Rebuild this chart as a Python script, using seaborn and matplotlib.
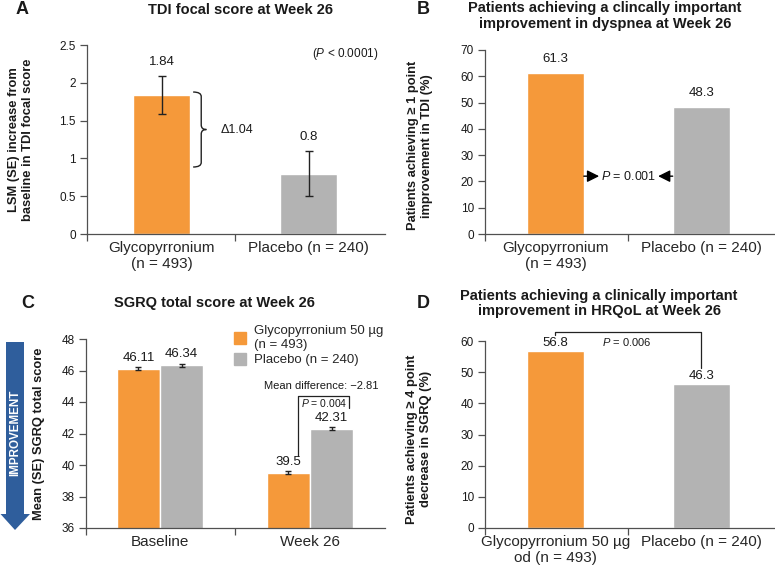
import matplotlib
matplotlib.use("Agg")
import matplotlib.pyplot as plt
import seaborn as sns
import pandas as pd
import numpy as np
from matplotlib.patches import Polygon, PathPatch
from matplotlib.path import Path
from matplotlib.lines import Line2D

# ---------------- data ----------------
tdi_cats = ["Glycopyrronium\n(n = 493)", "Placebo (n = 240)"]
tdi_vals = [1.84, 0.8]
tdi_err = [0.25, 0.30]

resp_cats = ["Glycopyrronium\n(n = 493)", "Placebo (n = 240)"]
resp_vals = [61.3, 48.3]

sgrq_groups = ["Baseline", "Week 26"]
sgrq_treat = ["Glycopyrronium 50 µg\n(n = 493)", "Placebo (n = 240)"]
sgrq_glyco = [46.11, 39.5]
sgrq_plac = [46.34, 42.31]
sgrq_glyco_err = [0.10, 0.10]
sgrq_plac_err = [0.10, 0.10]

hrq_cats = ["Glycopyrronium 50 µg\nod (n = 493)", "Placebo (n = 240)"]
hrq_vals = [56.8, 46.3]

ORANGE = "#F5993A"
GRAY = "#B3B3B3"
BLUE = "#2F5E9C"
TXT = "#1a1a1a"
SP = "#505050"

sns.set_theme(style="white")
plt.rcParams["font.family"] = ["Liberation Sans", "DejaVu Sans"]
plt.rcParams["mathtext.fontset"] = "custom"
plt.rcParams["mathtext.rm"] = "Liberation Sans"
plt.rcParams["mathtext.it"] = "Liberation Sans:italic"
plt.rcParams["mathtext.bf"] = "Liberation Sans:bold"

W, H = 775, 566
fig = plt.figure(figsize=(W / 100, H / 100), dpi=100)

YLAB_FS = 9.3
VAL_FS = 9.5


def add_ax(left, top, right, bottom):
    return fig.add_axes([left / W, (H - bottom) / H, (right - left) / W, (bottom - top) / H])


def style(ax, xlim):
    ax.set_xlim(*xlim)
    for s in ["top", "right"]:
        ax.spines[s].set_visible(False)
    for s in ["left", "bottom"]:
        ax.spines[s].set_color(SP)
        ax.spines[s].set_linewidth(0.9)
    labels = [t.get_text() for t in ax.get_xticklabels()]
    ax.set_xticks([0, 1], minor=True)
    ax.set_xticklabels(labels, minor=True, fontsize=9, color=TXT)
    ax.set_xticks([xlim[0], 0.5])
    ax.set_xticklabels(["", ""])
    ax.tick_params(axis="x", which="major", length=5, color=SP, width=0.9, direction="out", bottom=True)
    ax.tick_params(axis="x", which="minor", length=0, pad=5, bottom=True)
    ax.tick_params(axis="y", length=5, color=SP, width=0.9, direction="out", left=True,
                   labelsize=8.5, labelcolor=TXT, pad=3)
    ax.set_xlabel("")


# ---------------- Panel A ----------------
axA = add_ax(87, 45, 385, 234)
dfA = pd.DataFrame({"cat": tdi_cats, "val": tdi_vals})
sns.barplot(data=dfA, x="cat", y="val", hue="cat", palette=[ORANGE, GRAY], width=0.39,
            errorbar=None, legend=False, ax=axA, saturation=1)
xs = [p.get_x() + p.get_width() / 2 for p in axA.patches]
axA.errorbar(xs, tdi_vals, yerr=tdi_err, fmt="none", ecolor="#222222", elinewidth=1, capsize=3, capthick=1)
for x, v, e in zip(xs, tdi_vals, tdi_err):
    axA.annotate(f"{v:g}", (x, v + e), xytext=(0, 10), textcoords="offset points",
                 ha="center", va="center", fontsize=VAL_FS, color=TXT)
axA.set_ylim(0, 2.5)
axA.set_yticks([0, 0.5, 1, 1.5, 2, 2.5])
axA.set_yticklabels(["0", "0.5", "1", "1.5", "2", "2.5"])
style(axA, (-0.507, 1.52))
axA.set_ylabel("LSM (SE) increase from\nbaseline in TDI focal score", fontsize=YLAB_FS, fontweight="bold", color=TXT)
axA.yaxis.set_label_coords(-0.178, 0.5)
# brace
bx0, bx1, bx2 = 0.215, 0.27, 0.305
yt, yb = 1.878, 0.886
ym = (yt + yb) / 2
verts = [(bx0, yt), (bx1, yt), (bx1, yt - 0.06),
         (bx1, ym + 0.06), (bx1, ym), (bx2, ym),
         (bx1, ym), (bx1, ym - 0.06),
         (bx1, yb + 0.06), (bx1, yb), (bx0, yb)]
codes = [Path.MOVETO, Path.CURVE3, Path.CURVE3,
         Path.LINETO, Path.CURVE3, Path.CURVE3,
         Path.CURVE3, Path.CURVE3,
         Path.LINETO, Path.CURVE3, Path.CURVE3]
axA.add_patch(PathPatch(Path(verts, codes), fill=False, lw=1, edgecolor="#222222"))
axA.text(0.40, ym - 0.01, "Δ1.04", fontsize=9, va="center", ha="left", color=TXT)
axA.text(1.473, 2.38, "($\\mathit{P}$ < 0.0001)", fontsize=8.5, ha="right", va="center", color=TXT)

# ---------------- Panel B ----------------
axB = add_ax(485, 50, 774, 234)
dfB = pd.DataFrame({"cat": resp_cats, "val": resp_vals})
sns.barplot(data=dfB, x="cat", y="val", hue="cat", palette=[ORANGE, GRAY], width=0.39,
            errorbar=None, legend=False, ax=axB, saturation=1)
xsB = [p.get_x() + p.get_width() / 2 for p in axB.patches]
for x, v in zip(xsB, resp_vals):
    axB.annotate(f"{v:g}", (x, v), xytext=(0, 10), textcoords="offset points",
                 ha="center", va="center", fontsize=VAL_FS, color=TXT)
axB.set_ylim(0, 70)
axB.set_yticks(np.arange(0, 71, 10))
style(axB, (-0.483, 1.5))
axB.set_ylabel("Patients achieving ≥ 1 point\nimprovement in TDI (%)", fontsize=YLAB_FS, fontweight="bold", color=TXT)
axB.yaxis.set_label_coords(-0.18, 0.48)
yarr = 22
pB = axB.patches
r0 = pB[0].get_x() + pB[0].get_width()
l1 = pB[1].get_x()
akw = dict(arrowstyle="-|>,head_length=0.6,head_width=0.3", color="black", lw=1, shrinkA=0, shrinkB=0)
axB.annotate("", xy=(r0 + 0.105, yarr), xytext=(r0, yarr), arrowprops=akw)
axB.annotate("", xy=(l1 - 0.10, yarr), xytext=(l1, yarr), arrowprops=akw)
axB.text(r0 + 0.115, yarr, "$\\mathit{P}$ = 0.001", fontsize=9, va="center", ha="left", color=TXT)

# ---------------- Panel C ----------------
axC = add_ax(86, 339, 385, 528)
dfC = pd.DataFrame({
    "group": sgrq_groups * 2,
    "treat": [sgrq_treat[0]] * 2 + [sgrq_treat[1]] * 2,
    "val": sgrq_glyco + sgrq_plac,
})
sns.barplot(data=dfC, x="group", y="val", hue="treat", palette=[ORANGE, GRAY], width=0.575,
            errorbar=None, ax=axC, saturation=1)
barsC = axC.patches[:4]
valsC = sgrq_glyco + sgrq_plac
errsC = sgrq_glyco_err + sgrq_plac_err
xsC = [p.get_x() + p.get_width() / 2 for p in barsC]
axC.errorbar(xsC, valsC, yerr=errsC, fmt="none", ecolor="#222222", elinewidth=1, capsize=2.5, capthick=1)
for x, v in zip(xsC, valsC):
    axC.annotate(f"{v:g}", (x, v), xytext=(0, 8), textcoords="offset points",
                 ha="center", va="center", fontsize=VAL_FS, color=TXT)
axC.set_ylim(36, 48)
axC.set_yticks(np.arange(36, 49, 2))
if axC.legend_ is not None:
    axC.legend_.remove()
hh = [Line2D([], [], marker="s", ls="", color=ORANGE, markersize=8),
      Line2D([], [], marker="s", ls="", color=GRAY, markersize=8)]
fig.legend(hh, sgrq_treat, loc="upper left", bbox_to_anchor=(233 / W, (H - 325) / H),
           frameon=False, fontsize=9.5, handlelength=1.0, handletextpad=0.6,
           labelspacing=0.25, borderpad=0, borderaxespad=0)
style(axC, (-0.493, 1.5))
axC.set_ylabel("Mean (SE) SGRQ total score", fontsize=YLAB_FS, fontweight="bold", color=TXT)
axC.yaxis.set_label_coords(-0.137, 0.5)
# bracket
bL, bR = 0.92, 1.26
axC.plot([bL, bL, bR, bR], [40.6, 44.38, 44.38, 43.62], color="#222222", lw=0.9, clip_on=False)
axC.text(bL + 0.02, 43.95, "$\\mathit{P}$ = 0.004", fontsize=7.5, va="center", ha="left", color=TXT)
axC.text(1.075, 45.0, "Mean difference: −2.81", fontsize=8, va="center", ha="center", color=TXT)

# ---------------- Panel D ----------------
axD = add_ax(485, 341, 774, 528)
dfD = pd.DataFrame({"cat": hrq_cats, "val": hrq_vals})
sns.barplot(data=dfD, x="cat", y="val", hue="cat", palette=[ORANGE, GRAY], width=0.39,
            errorbar=None, legend=False, ax=axD, saturation=1)
xsD = [p.get_x() + p.get_width() / 2 for p in axD.patches]
for x, v in zip(xsD, hrq_vals):
    axD.annotate(f"{v:g}", (x, v), xytext=(0, 5.5), textcoords="offset points",
                 ha="center", va="center", fontsize=VAL_FS, color=TXT)
axD.set_ylim(0, 60)
axD.set_yticks(np.arange(0, 61, 10))
style(axD, (-0.483, 1.5))
axD.set_ylabel("Patients achieving ≥ 4 point\ndecrease in SGRQ (%)", fontsize=YLAB_FS, fontweight="bold", color=TXT)
axD.yaxis.set_label_coords(-0.183, 0.476)
axD.plot([xsD[0], xsD[0], xsD[1], xsD[1]], [62.0, 62.9, 62.9, 51.2], color="#222222", lw=0.9, clip_on=False)
axD.text(0.49, 59.8, "$\\mathit{P}$ = 0.006", fontsize=8, va="center", ha="center", color=TXT)

# ---------------- titles ----------------
tkw = dict(fontsize=10.5, fontweight="bold", ha="center", va="center", color=TXT)
fig.text(241 / W, 1 - 10 / H, "TDI focal score at Week 26", **tkw)
fig.text(605 / W, 1 - 16 / H, "Patients achieving a clincally important\nimprovement in dyspnea at Week 26",
         linespacing=1.1, **tkw)
fig.text(214 / W, 1 - 303 / H, "SGRQ total score at Week 26", **tkw)
fig.text(599 / W, 1 - 303.5 / H, "Patients achieving a clinically important\nimprovement in HRQoL at Week 26",
         linespacing=1.1, **tkw)
lkw = dict(fontsize=13, fontweight="bold", ha="center", va="center", color=TXT)
fig.text(22 / W, 1 - 10 / H, "A", **lkw)
fig.text(423 / W, 1 - 9 / H, "B", **lkw)
fig.text(28 / W, 1 - 303 / H, "C", **lkw)
fig.text(423 / W, 1 - 303 / H, "D", **lkw)

# ---------------- improvement arrow ----------------
pts = [(6, 342), (24, 342), (24, 514), (30, 514), (15, 530), (0.5, 514), (6, 514)]
poly = Polygon([(x / W, 1 - y / H) for x, y in pts], closed=True, transform=fig.transFigure,
               facecolor=BLUE, edgecolor="none")
fig.patches.append(poly)
fig.text(15 / W, 1 - 433 / H, "IMPROVEMENT", rotation=90, color="white", fontsize=8.4,
         fontweight="bold", ha="center", va="center")

fig.savefig("out.png", dpi=100)
